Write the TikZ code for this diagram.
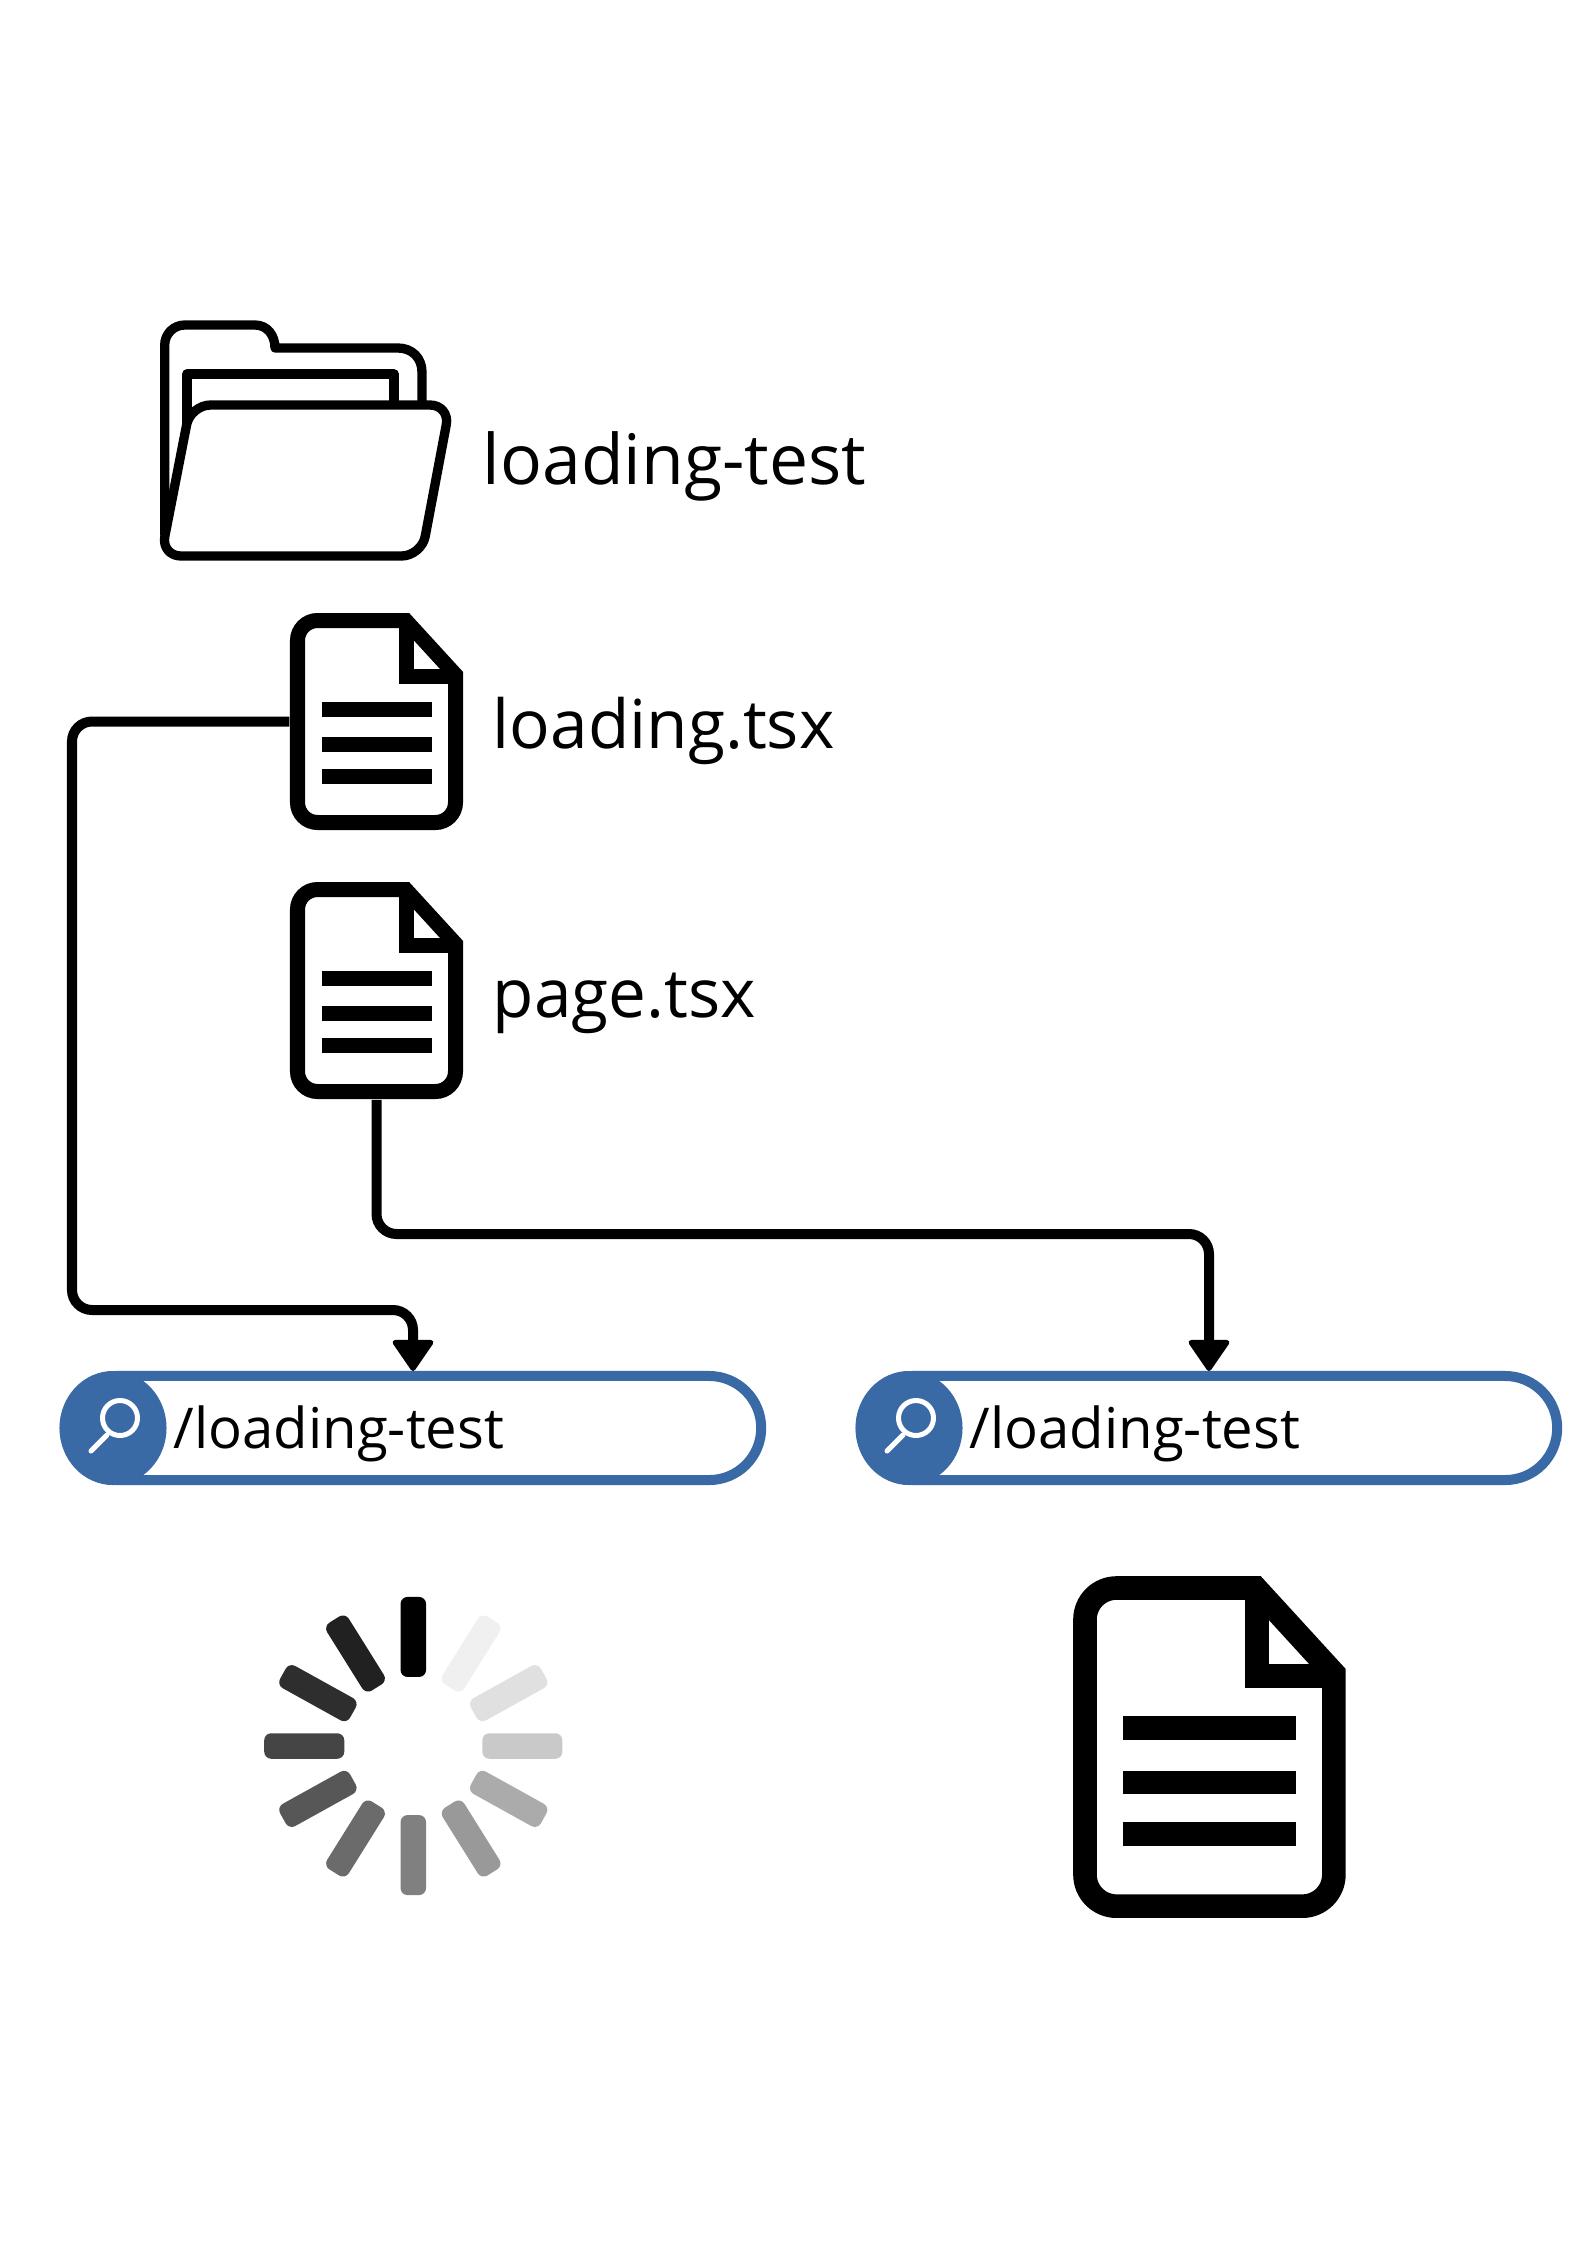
\documentclass[tikz,border=0pt]{standalone}
\usepackage{fontspec}
\setmainfont{Open Sans}
\usepackage{xcolor}
\usetikzlibrary{arrows.meta, calc, shapes.geometric}
\definecolor{searchblue}{RGB}{57, 106, 165}
\tikzset{
	connector/.style={line width=0.1cm, rounded corners=0.2cm, -{Triangle[round, width=0.44cm, length=0.33cm, line width=0.05cm]}},
	filelabel/.style={anchor=base west, inner sep=0pt, font=\fontsize{19.2}{24}\selectfont},
	folderlabel/.style={anchor=base west, inner sep=0pt, font=\fontsize{19.8}{24}\selectfont},
	barlabel/.style={anchor=base west, inner sep=0pt, font=\fontsize{16}{20}\selectfont},
	searchbar/.style={draw=searchblue, line width=0.1cm, rounded corners=0.52cm, inner sep=0pt, minimum width=6.96cm, minimum height=1.04cm},
	searchdot/.style={ellipse, fill=searchblue, inner sep=0pt, minimum width=1.07cm, minimum height=1.14cm},
	spoke/.style={inner sep=0pt, rounded corners=0.07cm, minimum width=0.8cm, minimum height=0.255cm}
}
% file icon: name, left, top, scale
\newcommand{\fileicon}[4]{
	\pgfmathsetmacro{\fileline}{15*#4*0.2845}
	\pgfmathsetmacro{\fileround}{20*#4*0.2845}
	\node[inner sep=0pt, minimum width=#4*1.73cm, minimum height=#4*2.17cm] (#1) at (#2+79*#4, #3+101*#4) {};
	\begin{scope}[shift={(#2,#3)}, scale=#4, line width=\fileline pt, miter limit=10]
		\draw[fill=white] (0,100) [rounded corners=\fileround pt] -- (0,0) [sharp corners] -- (108.3,0) -- (158,54.3) [rounded corners=\fileround pt] -- (158,202) -- (0,202) -- cycle;
		\draw (109,0) -- (109,56) -- (158,56);
		\foreach \rowtop in {81.5, 116, 148.5} {
			\fill (24.2,\rowtop) rectangle (134.2,\rowtop+15);
		}
	\end{scope}
}
% search bar: name, centre x
\newcommand{\searchfield}[2]{
	\node[searchbar] (#1) at (#2,1428) {};
	\node[searchdot] (#1dot) at (#2-300,1428) {};
	\draw[white, line width=0.05cm] (#2-293,1418) circle (17.5);
	\draw[white, line width=0.05cm, line cap=round] (#2-306,1435) -- (#2-322,1451);
	\node[barlabel] (#1text) at (#2-240,1448) {/loading-test};
}
\begin{document}
\begin{tikzpicture}[line cap=butt, line join=miter, x=0.01cm, y=-0.01cm]
	\useasboundingbox (0,0) rectangle (1587,2245);

	% folder
	\begin{scope}[line width=0.093cm, line join=round]
		\draw (164.7,535) [rounded corners=0.2cm] -- (164.7,325) [sharp corners] -- (255,325) .. controls (267,325) and (275,335) .. (275,348) -- (398,348) .. controls (412,348) and (422,358) .. (422,372) -- (422,410);
		\draw (187,425) -- (187,374) -- (394,374) -- (394,410);
		\draw[fill=white, rounded corners=0.2cm] (300,405) -- (450,405) -- (421.5,556) -- (161,556) -- (190.5,405) -- cycle;
	\end{scope}

	% files and their labels
	\fileicon{loadingdoc}{297.5}{620.5}{1}
	\fileicon{pagedoc}{297.5}{889.5}{1}
	\fileicon{bigdoc}{1085}{1588}{1.575}
	\node[folderlabel] (foldertext) at (482,484) {loading-test};
	\node[filelabel] (loadingtext) at (492,748) {loading.tsx};
	\node[filelabel] (pagetext) at (492,1017) {page.tsx};

	% search bars
	\searchfield{searchone}{413}
	\searchfield{searchtwo}{1209}

	% connectors
	\coordinate (loadbend) at (72,1310);
	\coordinate (pagebend) at (pagedoc.south |- 0,1234);
	\draw[connector] (loadingdoc.west) -| (loadbend) -| (searchone.north);
	\draw[connector] (pagedoc.south) -- (pagebend) -| (searchtwo.north);

	% spinner
	\coordinate (spinner) at (413.3,1746);
	\foreach \ang/\pct in {90/100, 58/6, 29/12, 0/21, -29/33, -58/40, -90/50, -122/58, -151/66, 180/73, 151/82, 122/87} {
		\path (spinner) ++(\ang:1.09cm) node[spoke, fill=black!\pct, rotate=\ang] (spoke\pct) {};
	}
\end{tikzpicture}
\end{document}
